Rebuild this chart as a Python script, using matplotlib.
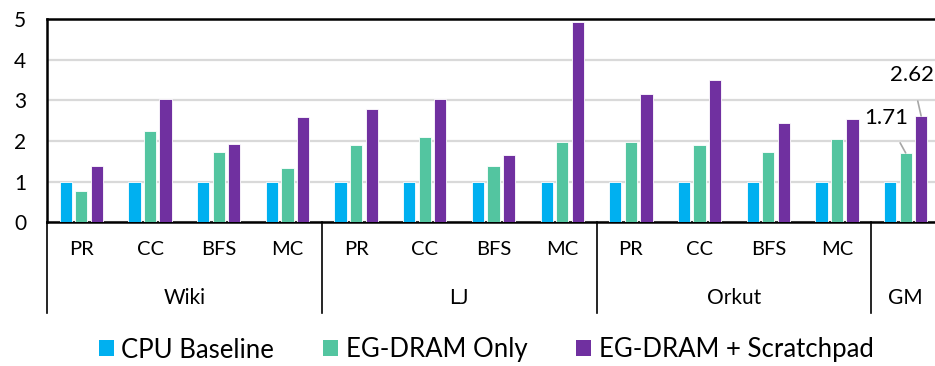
import matplotlib.pyplot as plt
from matplotlib.patches import Patch
import matplotlib.transforms as mtransforms
import numpy as np

plt.rcParams['font.family'] = ['Lato', 'DejaVu Sans']

# Data
groups = ['Wiki', 'LJ', 'Orkut', 'GM']
group_sizes = [4, 4, 4, 1]
categories = ['PR', 'CC', 'BFS', 'MC'] * 3 + ['']
cpu_baseline = [1, 1, 1, 1, 1, 1, 1, 1, 1, 1, 1, 1, 1]
eg_dram_only = [0.77, 2.24, 1.72, 1.35, 1.91, 2.09, 1.40, 1.99,
                1.97, 1.91, 1.72, 2.05, 1.71]
eg_dram_scratch = [1.40, 3.04, 1.92, 2.59, 2.80, 3.03, 1.67, 4.92,
                   3.16, 3.49, 2.45, 2.55, 2.62]
series_names = ['CPU Baseline', 'EG-DRAM Only', 'EG-DRAM + Scratchpad']

C_BLUE = '#00B0F0'
C_GREEN = '#53C5A0'
C_PURPLE = '#7030A0'
colors = [C_BLUE, C_GREEN, C_PURPLE]

fig = plt.figure(figsize=(9.35, 3.66), dpi=100)
ax = fig.add_axes([47 / 935, 1 - 222.5 / 366, 893 / 935, 203.5 / 366])

x = np.arange(len(categories))
width = 0.178
step = 0.226
for i, (vals, col) in enumerate(zip([cpu_baseline, eg_dram_only, eg_dram_scratch], colors)):
    ax.bar(x + (i - 1) * step, vals, width, color=col, edgecolor='white',
           linewidth=0.6, zorder=3)

ax.set_xlim(-0.5, len(categories) - 0.5)
ax.set_ylim(0, 5)
ax.set_yticks(range(6))
ax.set_yticklabels(['0', '1', '2', '3', '4', '5'], fontsize=15)
ax.tick_params(axis='y', length=0, pad=15)
ax.yaxis.grid(True, color='#D9D9D9', linewidth=1.6, zorder=0)

for s in ['top', 'left', 'bottom']:
    ax.spines[s].set_color('black')
    ax.spines[s].set_linewidth(1.8)
ax.spines['right'].set_visible(False)

# category labels (first row)
ax.set_xticks(x)
ax.set_xticklabels(categories, fontsize=14.5)
ax.tick_params(axis='x', length=0, pad=13)

# group labels and separators
trans = mtransforms.blended_transform_factory(ax.transData, ax.transAxes)
start = 0
edges = [-0.5]
for g, n in zip(groups, group_sizes):
    center = start + (n - 1) / 2
    ax.text(center, -0.37, g, transform=trans, ha='center', va='center',
            fontsize=15)
    start += n
    edges.append(start - 0.5)
for e in edges[:-1]:
    ax.plot([e, e], [0, -0.447], transform=trans, color='black',
            linewidth=1.2, clip_on=False)

# value callouts for the GM bars
ax.annotate(f'{eg_dram_only[-1]:.2f}', xy=(12, eg_dram_only[-1]),
            xytext=(11.72, 2.57), ha='center', va='center', fontsize=16,
            arrowprops=dict(arrowstyle='-', color='#A6A6A6', lw=1.2,
                            shrinkA=10, shrinkB=0))
ax.annotate(f'{eg_dram_scratch[-1]:.2f}', xy=(12.225, eg_dram_scratch[-1]),
            xytext=(12.09, 3.63), ha='center', va='center', fontsize=16,
            arrowprops=dict(arrowstyle='-', color='#A6A6A6', lw=1.2,
                            shrinkA=10, shrinkB=0))

handles = [Patch(facecolor=c, edgecolor='none') for c in colors]
fig.legend(handles, series_names, loc='center', bbox_to_anchor=(0.52, 1 - 350 / 366),
           ncol=3, frameon=False, fontsize=18.5, handlelength=0.58,
           handleheight=0.58, handletextpad=0.3, columnspacing=1.9)

fig.savefig('out.png', dpi=100, facecolor='white')
